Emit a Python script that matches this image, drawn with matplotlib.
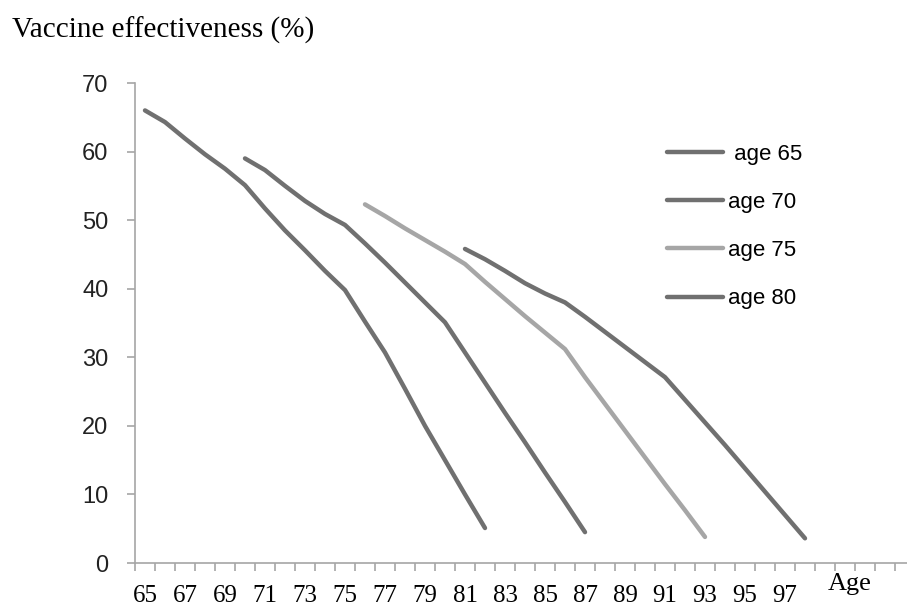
import numpy as np
import matplotlib
matplotlib.use('Agg')
import matplotlib.pyplot as plt
import matplotlib.transforms as mtransforms

# ages on the x axis (one category per year)
ages_65 = [65, 66, 67, 68, 69, 70, 71, 72, 73, 74, 75, 76, 77, 78, 79, 80, 81, 82]
ve_65 = [66.0, 64.3, 61.9, 59.6, 57.5, 55.1, 51.7, 48.5, 45.6, 42.6, 39.8, 35.2,
         30.7, 25.4, 20.0, 15.0, 10.0, 5.1]

ages_70 = [70, 71, 72, 73, 74, 75, 76, 77, 78, 79, 80, 81, 82, 83, 84, 85, 86, 87]
ve_70 = [59.0, 57.3, 55.0, 52.8, 50.9, 49.3, 46.6, 43.8, 40.9, 38.0, 35.1, 30.7,
         26.3, 21.9, 17.6, 13.2, 8.9, 4.5]

ages_75 = [76, 77, 78, 79, 80, 81, 82, 83, 84, 85, 86, 87, 88, 89, 90, 91, 92, 93]
ve_75 = [52.3, 50.6, 48.8, 47.1, 45.4, 43.6, 41.0, 38.5, 36.0, 33.6, 31.2, 27.1,
         23.2, 19.3, 15.4, 11.5, 7.7, 3.8]

ages_80 = [81, 82, 83, 84, 85, 86, 87, 88, 89, 90, 91, 92, 93, 94, 95, 96, 97, 98]
ve_80 = [45.8, 44.3, 42.6, 40.8, 39.3, 38.0, 35.9, 33.7, 31.5, 29.3, 27.1, 23.8,
         20.5, 17.2, 13.8, 10.4, 7.0, 3.6]

series = [
    {'label': ' age 65', 'x': ages_65, 'y': ve_65, 'color': '#707070'},
    {'label': 'age 70', 'x': ages_70, 'y': ve_70, 'color': '#707070'},
    {'label': 'age 75', 'x': ages_75, 'y': ve_75, 'color': '#a6a6a6'},
    {'label': 'age 80', 'x': ages_80, 'y': ve_80, 'color': '#707070'},
]

tick_ages = list(range(65, 98, 2))
first_age = 65
last_cat = 102

W, H = 907, 606
fig = plt.figure(figsize=(W / 100, H / 100), dpi=100)
ax = fig.add_axes([135 / W, 43 / H, (W - 135) / W, 480 / H])

for s in series:
    ax.plot(s['x'], s['y'], color=s['color'], lw=3.2, label=s['label'],
            solid_capstyle='round', solid_joinstyle='round')

ax.set_xlim(first_age - 0.5, first_age - 0.5 + (W - 135) / 20)
ax.set_ylim(0, 70)

spine_col = '#a6a6a6'
for side in ['top', 'right']:
    ax.spines[side].set_visible(False)
for side in ['left', 'bottom']:
    ax.spines[side].set_color(spine_col)
    ax.spines[side].set_linewidth(1.2)

ax.set_yticks(range(0, 71, 10))
ax.tick_params(axis='y', length=6, width=1.2, color=spine_col, pad=13,
               labelsize=17, labelcolor='#222222')
for lab in ax.get_yticklabels():
    lab.set_family('Liberation Sans')

ax.set_xticks(tick_ages)
ax.set_xticklabels([str(a) for a in tick_ages], family='Liberation Serif',
                   fontsize=18)
ax.set_xticks(np.arange(first_age - 0.5, last_cat + 1), minor=True)
ax.tick_params(axis='x', which='major', length=0, pad=16)
ax.tick_params(axis='x', which='minor', length=6, width=1.2, color=spine_col)

trans = mtransforms.blended_transform_factory(ax.transData, fig.transFigure)
ax.text(100.25, 1 - 584 / H, 'Age', transform=trans, ha='center', va='center',
        family='Liberation Serif', fontsize=19)

fig.text(12 / W, 1 - 30 / H, 'Vaccine effectiveness (%)', ha='left',
         va='center', family='Liberation Serif', fontsize=21)

ax.legend(loc='upper left', bbox_to_anchor=(667 / W, 1 - 144 / H),
          bbox_transform=fig.transFigure, frameon=False,
          prop={'family': 'Liberation Sans', 'size': 16},
          handlelength=2.5, handletextpad=0.25, labelspacing=1.22,
          borderpad=0, borderaxespad=0)

plt.savefig('out.png', dpi=100)
